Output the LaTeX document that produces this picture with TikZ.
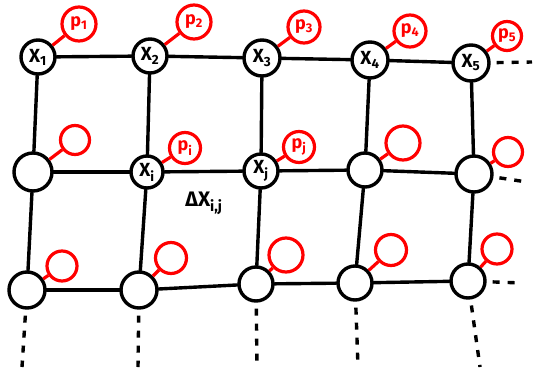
\documentclass[tikz,border=0pt]{standalone}
\usepackage{fontspec}
\setmainfont{Fira Sans}
\begin{document}
\begin{tikzpicture}[x=1pt,y=-1pt,
  bnode/.style={circle,draw=black,line width=3.4pt,inner sep=0pt,minimum size=#1,
    font=\fontsize{19}{21}\selectfont\bfseries},
  bnode/.default=34pt,
  rnode/.style={circle,draw=red,line width=3.2pt,inner sep=0pt,minimum size=#1,text=red,
    font=\fontsize{18}{20}\selectfont\bfseries},
  rnode/.default=32pt,
  gridline/.style={line width=3.4pt,line cap=round},
  redline/.style={draw=red,line width=3.2pt},
  dotline/.style={line width=3.4pt,dash pattern=on 7pt off 8pt,dash phase=-6pt},
]
\useasboundingbox (0,0) rectangle (535,367);

% lattice points, first row
\node[bnode]      (n11) at (38,57)  {X\textsubscript{1}};
\node[bnode]      (n12) at (150,56) {X\textsubscript{2}};
\node[bnode=36pt] (n13) at (262,58) {X\textsubscript{3}};
\node[bnode=36pt] (n14) at (370,60) {X\textsubscript{4}};
\node[bnode=36pt] (n15) at (471,63) {X\textsubscript{5}};
% second row
\node[bnode=38pt] (n21) at (33,172)  {};
\node[bnode=32pt] (n22) at (147,172) {X\textsubscript{i}};
\node[bnode]      (n23) at (261,171) {X\textsubscript{j}};
\node[bnode]      (n24) at (365,170) {};
\node[bnode=36pt] (n25) at (474,174) {};
% third row
\node[bnode=36pt] (n31) at (27,290)  {};
\node[bnode=36pt] (n32) at (139,290) {};
\node[bnode]      (n33) at (256,284) {};
\node[bnode]      (n34) at (355,283) {};
\node[bnode]      (n35) at (468,281) {};

% attached red circles
\node[rnode=34pt] (r11) at (79,24)  {p\textsubscript{1}};
\node[rnode=34pt] (r12) at (194,22) {p\textsubscript{2}};
\node[rnode]      (r13) at (304,27) {p\textsubscript{3}};
\node[rnode]      (r14) at (410,31) {p\textsubscript{4}};
\node[rnode=29pt] (r15) at (507,36) {p\textsubscript{5}};
\node[rnode=29pt] (r21) at (75,140)  {};
\node[rnode=31pt] (r22) at (185,148) {p\textsubscript{i}};
\node[rnode=31pt] (r23) at (299,147) {p\textsubscript{j}};
\node[rnode=34pt] (r24) at (403,143) {};
\node[rnode=29pt] (r25) at (508,152) {};
\node[rnode=30pt] (r31) at (62,266)  {};
\node[rnode=31pt] (r32) at (171,258) {};
\node[rnode=34pt] (r33) at (286,255) {};
\node[rnode=31pt] (r34) at (391,250) {};
\node[rnode=30pt] (r35) at (497,249) {};

% spacing label
\node[font=\fontsize{21}{23}\selectfont\bfseries] (dx) at (204,203) {ΔX\textsubscript{i,j}};

% horizontal links
\foreach \r in {1,2,3}{
  \draw[gridline] (n\r1) -- (n\r2);
  \draw[gridline] (n\r2) -- (n\r3);
  \draw[gridline] (n\r3) -- (n\r4);
  \draw[gridline] (n\r4) -- (n\r5);
}
% vertical links
\foreach \c in {1,...,5}{
  \draw[gridline] (n1\c) -- (n2\c);
  \draw[gridline] (n2\c) -- (n3\c);
}
% red links
\foreach \r in {1,2,3}{
  \foreach \c in {1,...,5}{
    \draw[redline] (n\r\c) -- (r\r\c);
  }
}

% continuation to the right
\coordinate (e1) at (532,62);
\coordinate (e2) at (527,182);
\coordinate (e3) at (522,283);
\draw[dotline] (n15) -- (e1);
\draw[dotline] (n25) -- (e2);
\draw[dotline] (n35) -- (e3);

% continuation downwards
\coordinate (d1) at (22,367);
\coordinate (d2) at (138,367);
\coordinate (d3) at (257,367);
\coordinate (d4) at (358,367);
\coordinate (d5) at (480,367);
\foreach \c in {1,...,5}{
  \draw[dotline] (n3\c) -- (d\c);
}
\end{tikzpicture}
\end{document}
